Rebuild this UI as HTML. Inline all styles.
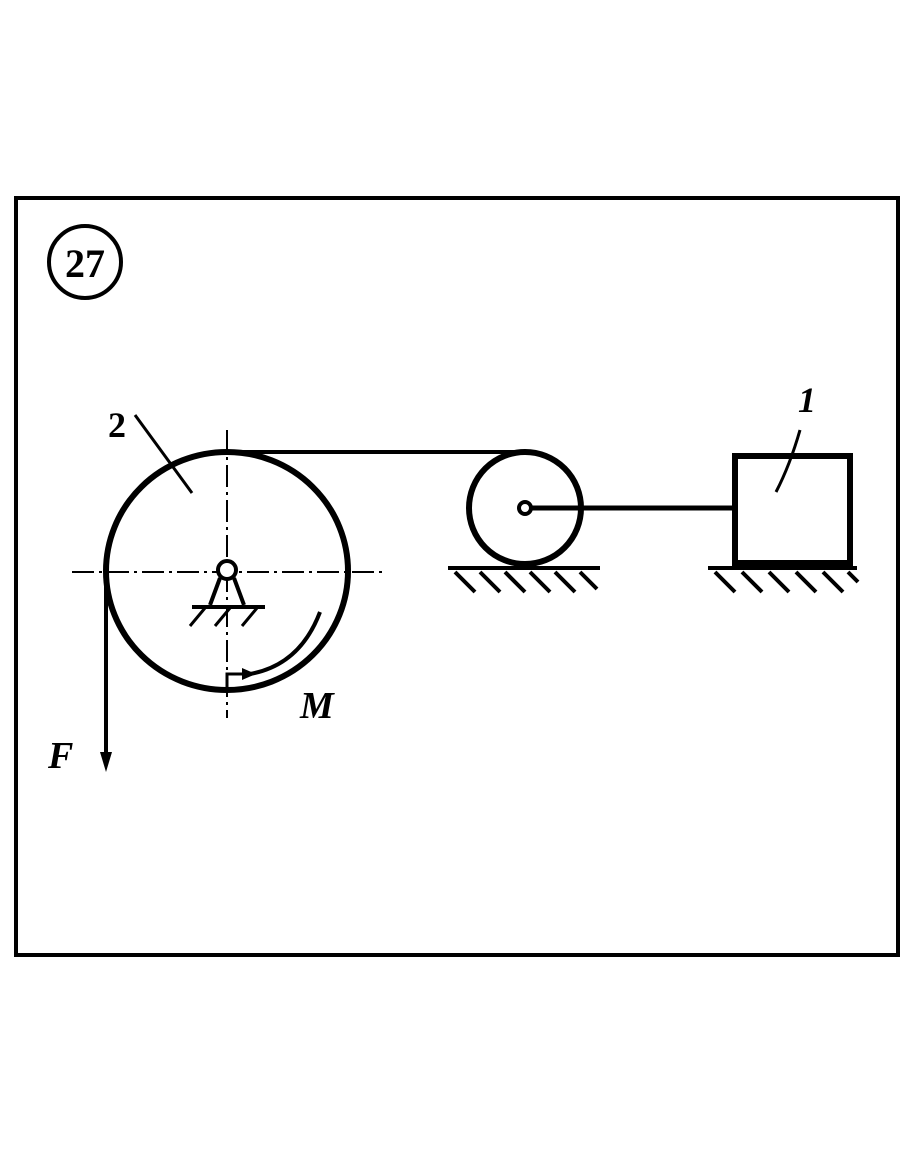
<!DOCTYPE html>
<html><head><style>body{margin:0;background:#fff}svg{display:block}</style></head><body>
<svg width="910" height="1155" viewBox="0 0 910 1155" xmlns="http://www.w3.org/2000/svg">
<g fill="none" stroke="#000">
<rect x="16" y="198" width="882" height="757" stroke-width="4"/>
<circle cx="85" cy="262" r="36" stroke-width="4"/>
<line x1="227" y1="430" x2="227" y2="718" stroke-width="2" stroke-dasharray="22,5,3,5"/>
<line x1="72" y1="572" x2="382" y2="572" stroke-width="2" stroke-dasharray="22,5,3,5"/>
<ellipse cx="227" cy="571" rx="121" ry="119" stroke-width="6"/>
<line x1="227" y1="452" x2="528" y2="452" stroke-width="4"/>
<line x1="106" y1="572" x2="106" y2="765" stroke-width="4"/>
<circle cx="525" cy="508" r="56" stroke-width="6"/>
<circle cx="525" cy="508" r="6" stroke-width="4" fill="#fff"/>
<line x1="532" y1="508" x2="733" y2="508" stroke-width="5"/>
<rect x="735" y="456" width="115" height="107" stroke-width="6"/>
<line x1="448" y1="568" x2="600" y2="568" stroke-width="4"/>
<line x1="708" y1="568" x2="857" y2="568" stroke-width="4"/>
<path d="M455 572 l20 20 M480 572 l20 20 M505 572 l20 20 M530 572 l20 20 M555 572 l20 20 M580 572 l17 17" stroke-width="4"/>
<path d="M715 572 l20 20 M742 572 l20 20 M769 572 l20 20 M796 572 l20 20 M823 572 l20 20 M848 572 l10 10" stroke-width="4"/>
<circle cx="227" cy="570" r="9" stroke-width="4" fill="#fff"/>
<path d="M220 578 L210 605 M234 578 L244 605" stroke-width="4"/>
<line x1="192" y1="607" x2="265" y2="607" stroke-width="4"/>
<path d="M205 608 l-15 18 M230 608 l-15 18 M257 608 l-15 18" stroke-width="3"/>
<path d="M320 612 Q300 665 250 674" stroke-width="4"/>
<path d="M227 688 L227 674 L252 674" stroke-width="3"/>
<path d="M135 415 L192 493" stroke-width="3"/>
<path d="M800 430 Q790 465 776 492" stroke-width="3"/>
</g>
<polygon points="256,674 242,668 242,680" fill="#000"/>
<polygon points="106,772 100,752 112,752" fill="#000"/>
<g font-family="Liberation Serif, serif" font-weight="bold" fill="#000">
<text x="85" y="277" font-size="40" text-anchor="middle">27</text>
<text x="108" y="437" font-size="36">2</text>
<text x="798" y="412" font-size="36" font-style="italic">1</text>
<text x="300" y="718" font-size="38" font-style="italic">M</text>
<text x="48" y="768" font-size="38" font-style="italic">F</text>
</g>
</svg>
</body></html>
